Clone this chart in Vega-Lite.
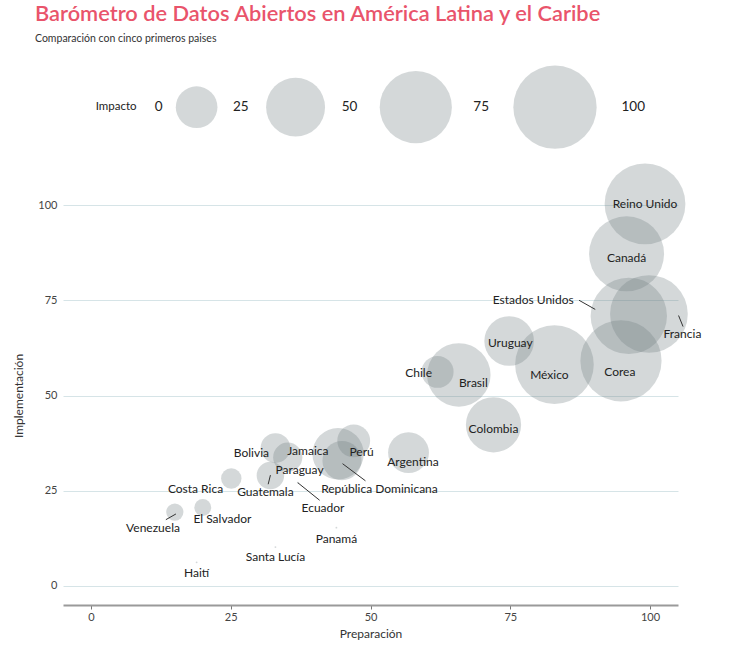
{
  "$schema": "https://vega.github.io/schema/vega-lite/v6.json",
  "description": "Barómetro de Datos Abiertos en América Latina y el Caribe",
  "autosize": {"type": "none"},
  "width": 615,
  "height": 419,
  "padding": {"left": 63, "top": 186, "right": 62, "bottom": 42},
  "title": {
    "text": "Barómetro de Datos Abiertos en América Latina y el Caribe",
    "subtitle": "Comparación con cinco primeros paises",
    "anchor": "start",
    "frame": "group",
    "dx": -28,
    "font": "Lato",
    "fontSize": 21.8,
    "fontWeight": 600,
    "color": "#e9546b",
    "subtitleFont": "Lato",
    "subtitleFontSize": 10.5,
    "subtitleColor": "#333333",
    "subtitlePadding": 8,
    "offset": 21
  },
  "config": {
    "view": {"stroke": null},
    "font": "Lato",
    "text": {"font": "Lato", "color": "#222222"},
    "axisX": {
      "grid": false,
      "domainColor": "#9a9a9a",
      "domainWidth": 2,
      "labelFont": "Lato",
      "labelFontSize": 11,
      "labelColor": "#444444",
      "titleFont": "Lato",
      "titleFontSize": 12,
      "titleFontWeight": "normal",
      "titleColor": "#333333",
      "titlePadding": 6
    },
    "axisY": {
      "grid": true,
      "gridColor": "#d6e4e7",
      "gridWidth": 1,
      "domain": false,
      "ticks": false,
      "labelPadding": 6,
      "labelFont": "Lato",
      "labelFontSize": 11,
      "labelColor": "#444444",
      "titleFont": "Lato",
      "titleFontSize": 12,
      "titleFontWeight": "normal",
      "titleColor": "#333333",
      "titlePadding": 12
    }
  },
  "datasets": {
    "paises": [
      {"pais": "Reino Unido", "prep": 99.1, "impl": 100.3, "impacto": 94, "lx": 99.1, "ly": 100.3},
      {"pais": "Canadá", "prep": 95.8, "impl": 87.2, "impacto": 81, "lx": 95.8, "ly": 86.2},
      {"pais": "Estados Unidos", "prep": 96.2, "impl": 70.9, "impacto": 84, "lx": 79.1, "ly": 75.0},
      {"pais": "Francia", "prep": 99.8, "impl": 71.4, "impacto": 87, "lx": 105.8, "ly": 66.2},
      {"pais": "Corea", "prep": 94.8, "impl": 59.1, "impacto": 95, "lx": 94.6, "ly": 56.3},
      {"pais": "México", "prep": 82.9, "impl": 58.1, "impacto": 89, "lx": 82.0, "ly": 55.4},
      {"pais": "Uruguay", "prep": 74.8, "impl": 64.3, "impacto": 35.5, "lx": 75.0, "ly": 63.7},
      {"pais": "Brasil", "prep": 65.8, "impl": 55.4, "impacto": 58, "lx": 68.4, "ly": 53.4},
      {"pais": "Chile", "prep": 62.0, "impl": 56.2, "impacto": 14.7, "lx": 58.6, "ly": 56.0},
      {"pais": "Colombia", "prep": 72.0, "impl": 42.3, "impacto": 44, "lx": 72.0, "ly": 41.2},
      {"pais": "Argentina", "prep": 56.8, "impl": 35.0, "impacto": 24, "lx": 57.6, "ly": 32.5},
      {"pais": "Perú", "prep": 47.0, "impl": 38.1, "impacto": 15.5, "lx": 48.4, "ly": 35.2},
      {"pais": "Jamaica", "prep": 44.2, "impl": 34.7, "impacto": 38, "lx": 38.8, "ly": 35.4},
      {"pais": "República Dominicana", "prep": 44.9, "impl": 32.9, "impacto": 22, "lx": 51.6, "ly": 25.5},
      {"pais": "Paraguay", "prep": 35.2, "impl": 33.8, "impacto": 12.3, "lx": 37.3, "ly": 30.4},
      {"pais": "Bolivia", "prep": 33.0, "impl": 36.2, "impacto": 12.7, "lx": 28.7, "ly": 34.9},
      {"pais": "Guatemala", "prep": 32.1, "impl": 29.0, "impacto": 10.9, "lx": 31.2, "ly": 24.6},
      {"pais": "Ecuador", "prep": 37.0, "impl": 27.1, "impacto": 0.05, "lx": 41.5, "ly": 20.5},
      {"pais": "Costa Rica", "prep": 25.1, "impl": 28.2, "impacto": 6, "lx": 18.7, "ly": 25.5},
      {"pais": "El Salvador", "prep": 20.0, "impl": 20.6, "impacto": 4.1, "lx": 23.5, "ly": 17.6},
      {"pais": "Venezuela", "prep": 15.0, "impl": 19.4, "impacto": 4.3, "lx": 11.1, "ly": 15.3},
      {"pais": "Panamá", "prep": 43.9, "impl": 15.3, "impacto": 0.05, "lx": 43.9, "ly": 12.2},
      {"pais": "Santa Lucía", "prep": 33.0, "impl": 10.2, "impacto": 0.05, "lx": 33.0, "ly": 7.5},
      {"pais": "Haití", "prep": 18.9, "impl": 6.2, "impacto": 0.05, "lx": 18.9, "ly": 3.3}
    ],
    "guias": [
      {"pais": "Estados Unidos", "x1": 87.3, "y1": 75.0, "x2": 90.2, "y2": 72.6},
      {"pais": "Francia", "x1": 105.1, "y1": 71.0, "x2": 105.9, "y2": 68.1},
      {"pais": "República Dominicana", "x1": 45.0, "y1": 32.1, "x2": 49.1, "y2": 27.6},
      {"pais": "Guatemala", "x1": 32.1, "y1": 29.1, "x2": 31.7, "y2": 26.7},
      {"pais": "Ecuador", "x1": 37.0, "y1": 27.1, "x2": 40.9, "y2": 22.5},
      {"pais": "Venezuela", "x1": 13.4, "y1": 17.4, "x2": 15.2, "y2": 18.9}
    ],
    "leyenda": [
      {"valor": 25, "lx": 18.9, "ly": 125.7},
      {"valor": 50, "lx": 36.6, "ly": 125.7},
      {"valor": 75, "lx": 58.1, "ly": 125.7},
      {"valor": 100, "lx": 83.0, "ly": 125.7}
    ],
    "leyenda_valores": [
      {"texto": "0", "lx": 12.1, "ly": 125.7},
      {"texto": "25", "lx": 26.8, "ly": 125.7},
      {"texto": "50", "lx": 46.25, "ly": 125.7},
      {"texto": "75", "lx": 69.8, "ly": 125.7},
      {"texto": "100", "lx": 97.0, "ly": 125.7}
    ],
    "leyenda_titulo": [
      {"texto": "Impacto", "lx": 4.5, "ly": 125.7}
    ]
  },
  "layer": [
    {
      "data": {"name": "leyenda"},
      "mark": {"type": "circle", "color": "#6f7f80", "opacity": 0.3},
      "encoding": {
        "x": {
          "field": "lx", "type": "quantitative", "title": "Preparación",
          "scale": {"domain": [-5, 105], "nice": false, "zero": false},
          "axis": {"values": [0, 25, 50, 75, 100], "ticks": true, "tickSize": 4, "tickWidth": 1, "tickColor": "#777777", "labelPadding": 2}
        },
        "y": {
          "field": "ly", "type": "quantitative", "title": "Implementación",
          "scale": {"domain": [-5, 105], "nice": false, "zero": false},
          "axis": {"values": [0, 25, 50, 75, 100]}
        },
        "size": {"field": "valor", "type": "quantitative", "scale": {"type": "linear", "domain": [0, 100], "range": [0, 6940]}, "legend": null}
      }
    },
    {
      "data": {"name": "leyenda_valores"},
      "mark": {"type": "text", "fontSize": 13.5, "color": "#222222"},
      "encoding": {
        "x": {"field": "lx", "type": "quantitative", "title": "Preparación"},
        "y": {"field": "ly", "type": "quantitative", "title": "Implementación"},
        "text": {"field": "texto"}
      }
    },
    {
      "data": {"name": "leyenda_titulo"},
      "mark": {"type": "text", "fontSize": 11.5, "color": "#222222"},
      "encoding": {
        "x": {"field": "lx", "type": "quantitative", "title": "Preparación"},
        "y": {"field": "ly", "type": "quantitative", "title": "Implementación"},
        "text": {"field": "texto"}
      }
    },
    {
      "data": {"name": "paises"},
      "mark": {"type": "circle", "color": "#6f7f80", "opacity": 0.3},
      "encoding": {
        "x": {"field": "prep", "type": "quantitative", "title": "Preparación"},
        "y": {"field": "impl", "type": "quantitative", "title": "Implementación"},
        "size": {"field": "impacto", "type": "quantitative", "legend": null},
        "tooltip": [
          {"field": "pais", "title": "País"},
          {"field": "prep", "type": "quantitative", "title": "Preparación"},
          {"field": "impl", "type": "quantitative", "title": "Implementación"},
          {"field": "impacto", "type": "quantitative", "title": "Impacto"}
        ]
      }
    },
    {
      "data": {"name": "guias"},
      "mark": {"type": "rule", "color": "#333333", "strokeWidth": 1},
      "encoding": {
        "x": {"field": "x1", "type": "quantitative", "title": "Preparación"},
        "y": {"field": "y1", "type": "quantitative", "title": "Implementación"},
        "x2": {"field": "x2"},
        "y2": {"field": "y2"}
      }
    },
    {
      "data": {"name": "paises"},
      "mark": {"type": "text", "fontSize": 12, "color": "#222222"},
      "encoding": {
        "x": {"field": "lx", "type": "quantitative", "title": "Preparación"},
        "y": {"field": "ly", "type": "quantitative", "title": "Implementación"},
        "text": {"field": "pais"}
      }
    }
  ]
}
